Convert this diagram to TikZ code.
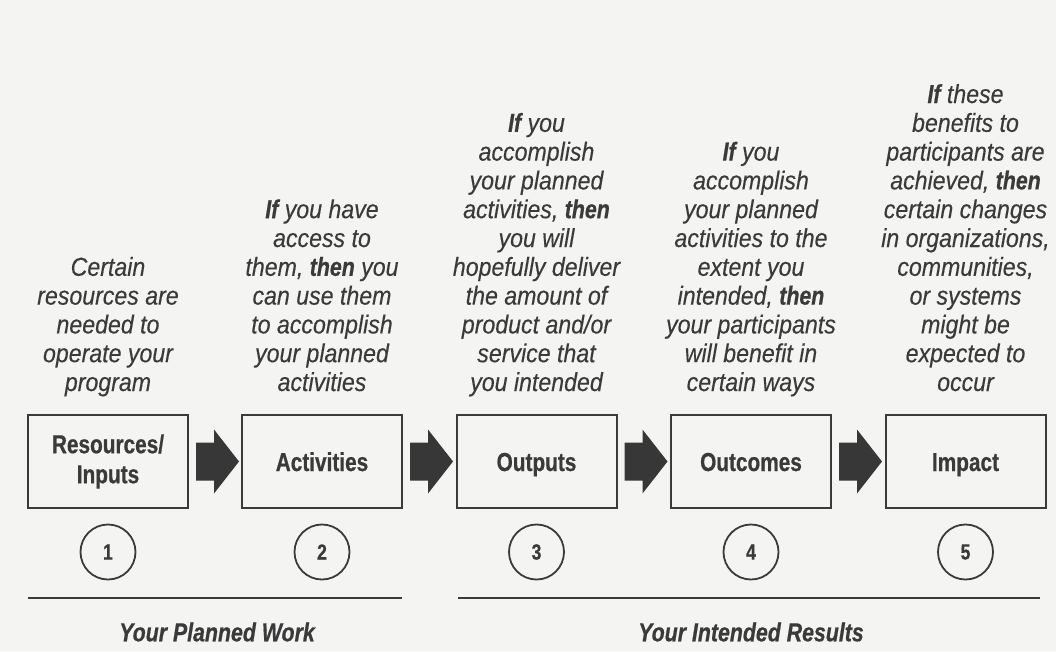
\documentclass[tikz,border=0pt]{standalone}
\usepackage{fontspec}
\setmainfont{Liberation Sans}[
  UprightFeatures={FakeStretch=0.85},
  ItalicFeatures={FakeStretch=0.89,FakeBold=0.25},
  BoldFeatures={FakeStretch=0.8,FakeBold=0.6},
  BoldItalicFeatures={FakeStretch=0.82,FakeBold=0.6}]
\usetikzlibrary{calc}
\definecolor{bgc}{HTML}{F4F4F2}
\definecolor{ink}{HTML}{3A3A3A}
\tikzset{
  box/.style={draw=ink, line width=2pt, minimum width=160pt, minimum height=93pt, inner sep=0pt,
    align=center, text=ink, font=\fontsize{26}{30}\selectfont\bfseries},
  oneline/.style={text height=19pt, text depth=0pt},
  desc/.style={align=center, text=ink, anchor=base, inner sep=0pt,
    font=\fontsize{26}{28.8}\selectfont\itshape},
  num/.style={draw=ink, line width=1.8pt, circle, minimum size=55pt, inner sep=0pt,
    text=ink, font=\fontsize{22}{22}\selectfont\bfseries},
  rule/.style={draw=ink, line width=2pt},
  foot/.style={text=ink, font=\fontsize{26}{28}\selectfont\bfseries\itshape, inner sep=0pt},
  flow/.style={fill=ink!95!black}
}
\begin{document}
\begin{tikzpicture}[x=1pt,y=-1pt]
\fill[bgc] (0,0) rectangle (1056,651);
\useasboundingbox (0,0) rectangle (1056,651);

% boxes
\node[box] (b1) at (108,461.5) {Resources/\\Inputs};
\node[box,oneline] (b2) at (322,461.5) {Activities};
\node[box,oneline] (b3) at (536.5,461.5) {Outputs};
\node[box,oneline] (b4) at (751,461.5) {Outcomes};
\node[box,oneline] (b5) at (965.5,461.5) {Impact};

% block arrows
\foreach \a in {b1,b2,b3,b4}{
  \fill[flow] ($(\a.east)+(7,-19)$) -- ($(\a.east)+(25,-19)$) -- ($(\a.east)+(25,-32)$)
    -- ($(\a.east)+(50,0)$) -- ($(\a.east)+(25,32)$) -- ($(\a.east)+(25,19)$)
    -- ($(\a.east)+(7,19)$) -- cycle;
}

% descriptions (anchored at the baseline of the last line)
\node[desc] (d1) at (108,391) {Certain\\resources are\\needed to\\operate your\\program};
\node[desc] (d2) at (322,391) {\textbf{If} you have\\access to\\them, \textbf{then} you\\can use them\\to accomplish\\your planned\\activities};
\node[desc] (d3) at (536.5,391) {\textbf{If} you\\accomplish\\your planned\\activities, \textbf{then}\\you will\\hopefully deliver\\the amount of\\product and/or\\service that\\you intended};
\node[desc] (d4) at (751,391) {\textbf{If} you\\accomplish\\your planned\\activities to the\\extent you\\intended, \textbf{then}\\your participants\\will benefit in\\certain ways};
\node[desc] (d5) at (965.5,391) {\textbf{If} these\\benefits to\\participants are\\achieved, \textbf{then}\\certain changes\\in organizations,\\communities,\\or systems\\might be\\expected to\\occur};

% numbers
\node[num] (n1) at (108,552) {1};
\node[num] (n2) at (322,552) {2};
\node[num] (n3) at (536.5,552) {3};
\node[num] (n4) at (751,552) {4};
\node[num] (n5) at (965.5,552) {5};

% rules
\coordinate (l1a) at (28,598);
\coordinate (l1b) at (402,598);
\coordinate (l2a) at (458,598);
\coordinate (l2b) at (1040,598);
\draw[rule] (l1a) -- (l1b);
\draw[rule] (l2a) -- (l2b);

\node[foot] (f1) at (217,632) {Your Planned Work};
\node[foot] (f2) at (751,632) {Your Intended Results};
\end{tikzpicture}
\end{document}
